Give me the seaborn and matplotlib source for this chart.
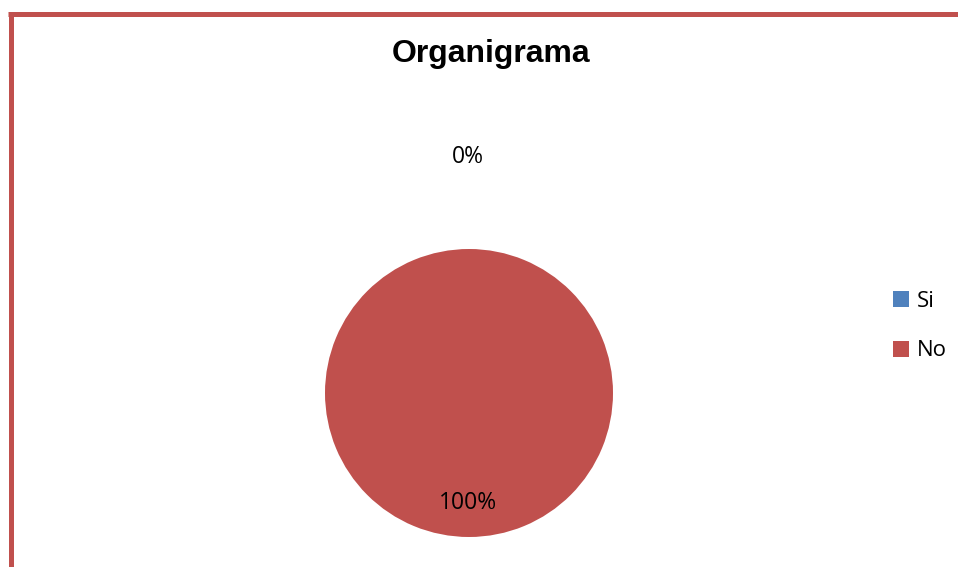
import numpy as np
import matplotlib
matplotlib.use("Agg")
import matplotlib.pyplot as plt
from matplotlib.lines import Line2D
from matplotlib.patches import Patch
import seaborn as sns

categories = ["Si", "No"]
values = [0, 100]
colors = ["#4F81BD", "#C0504D"]
title = "Organigrama"

sns.set_theme(style="white")
plt.rcParams['font.family'] = ['Liberation Sans', 'DejaVu Sans']
plt.rcParams['text.color'] = 'black'

W, H = 958, 567
fig = plt.figure(figsize=(W / 100, H / 100), dpi=100)

# pie geometry (pixels)
cx, cy, R = 469, 393, 144
xl, xr, yb, yt = -1.25, 1.25, -1.2, 1.8
left = (cx + xl * R) / W
bottom = (H - (cy - yb * R)) / H
ax = fig.add_axes([left, bottom, (xr - xl) * R / W, (yt - yb) * R / H])

wedges, _ = ax.pie(values, colors=colors, startangle=90, counterclock=False,
                   radius=1.0, wedgeprops=dict(linewidth=0))
ax.set_xlim(xl, xr)
ax.set_ylim(yb, yt)
ax.set_aspect("equal")
ax.axis("off")

total = sum(values)
for w, v in zip(wedges, values):
    ang = np.deg2rad((w.theta1 + w.theta2) / 2)
    dist = 0.765 if v > 0 else 1.64
    ax.text(dist * np.cos(ang) - 0.01, dist * np.sin(ang), f"{v / total:.0%}",
            ha="center", va="center", fontsize=16.5, color="black",
            family=["Open Sans", "DejaVu Sans"])

fig.text(491 / W, 1 - 54 / H, title, ha="center", va="center",
         fontsize=23, fontweight="bold", color="black")

handles = [Patch(facecolor=c, edgecolor="none") for c in colors]
leg = fig.legend(handles, categories, loc="center left",
                 bbox_to_anchor=(873 / W, 1 - 326 / H), frameon=False,
                 handlelength=0.72, handleheight=0.72,
                 handletextpad=0.35, labelspacing=1.3,
                 prop=dict(family=["Open Sans", "DejaVu Sans"], size=16))
for t in leg.get_texts():
    t.set_color("black")

# outer frame (left and top edges visible)
lw = 5 * 72 / 100
fig.add_artist(Line2D([10.5 / W, 10.5 / W], [0, 1 - 13.5 / H], color="#C0504D",
                      lw=lw, solid_capstyle="butt", transform=fig.transFigure))
fig.add_artist(Line2D([8 / W, 1], [1 - 13.5 / H, 1 - 13.5 / H], color="#C0504D",
                      lw=lw, solid_capstyle="butt", transform=fig.transFigure))

fig.savefig("out.png", dpi=100, facecolor="white")
